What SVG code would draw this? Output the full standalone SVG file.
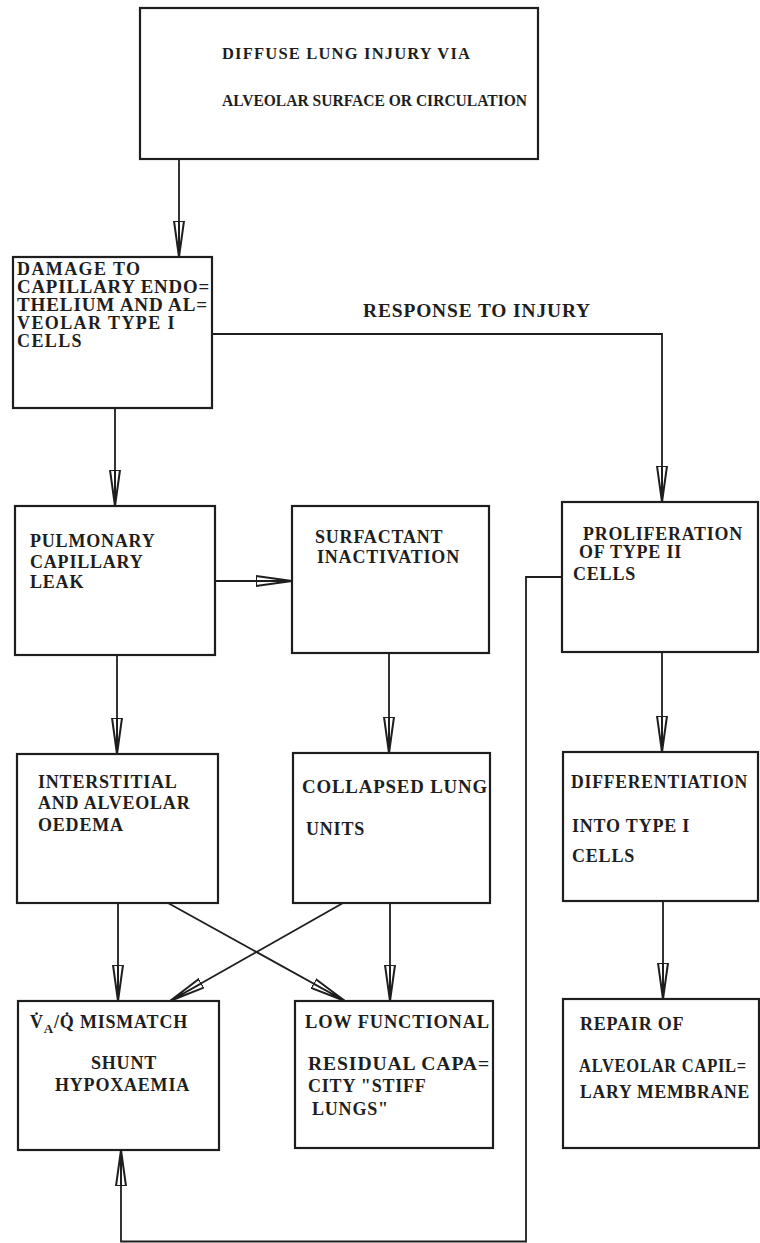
<svg xmlns="http://www.w3.org/2000/svg" width="760" height="1243" viewBox="0 0 760 1243">
<style>
.box{fill:none;stroke:#1e1e1e;stroke-width:2.2}
.t{font-family:"Liberation Serif","Times New Roman",serif;font-weight:bold;font-size:18px;letter-spacing:0.8px;fill:#1e1e1e}
.c{fill:none;stroke:#1e1e1e;stroke-width:1.8}
</style>
<defs>
<marker id="dart" markerUnits="userSpaceOnUse" markerWidth="40" markerHeight="14" viewBox="0 0 40 14" refX="36" refY="7" orient="auto">
<path d="M0,2 L36,7 L0,12 Z M0,7 L36,7" fill="#fff" stroke="#1e1e1e" stroke-width="2" stroke-linejoin="miter"/>
</marker>
</defs>
<rect width="760" height="1243" fill="#fff"/>
<g id="connectors">
<path class="c" d="M179,159 V257" marker-end="url(#dart)"/>
<path class="c" d="M115,408 V506" marker-end="url(#dart)"/>
<path class="c" d="M212,334 H662 V502" marker-end="url(#dart)"/>
<path class="c" d="M215,581 H292" marker-end="url(#dart)"/>
<path class="c" d="M117,655 V754" marker-end="url(#dart)"/>
<path class="c" d="M389,653 V753" marker-end="url(#dart)"/>
<path class="c" d="M662,652 V752" marker-end="url(#dart)"/>
<path class="c" d="M118,903 V1001" marker-end="url(#dart)"/>
<path class="c" d="M390,903 V1001" marker-end="url(#dart)"/>
<path class="c" d="M168,903 L345,1001" marker-end="url(#dart)"/>
<path class="c" d="M343,903 L170,1001" marker-end="url(#dart)"/>
<path class="c" d="M663,901 V999" marker-end="url(#dart)"/>
<path class="c" d="M562,577 H526 V1241.5 H121 V1150" marker-end="url(#dart)"/>
<text class="t" x="363" y="317" textLength="228" lengthAdjust="spacingAndGlyphs">RESPONSE  TO  INJURY</text>
</g>
<g id="n_top">
<rect class="box" x="140" y="8" width="398" height="151"/>
<text class="t" x="222" y="59" style="font-size:16.5px;letter-spacing:0px" textLength="248" lengthAdjust="spacing">DIFFUSE  LUNG  INJURY  VIA</text>
<text class="t" x="222" y="106" style="font-size:16.5px;letter-spacing:0px" textLength="305" lengthAdjust="spacingAndGlyphs">ALVEOLAR SURFACE OR CIRCULATION</text>
</g>
<g id="n_damage">
<rect class="box" x="13" y="257" width="199" height="151"/>
<text class="t" x="17" y="275" style="letter-spacing:1.4px">DAMAGE TO</text>
<text class="t" x="17" y="293" textLength="193" lengthAdjust="spacingAndGlyphs">CAPILLARY ENDO=</text>
<text class="t" x="17" y="311" textLength="191" lengthAdjust="spacingAndGlyphs">THELIUM AND AL=</text>
<text class="t" x="17" y="329" style="letter-spacing:1.4px">VEOLAR TYPE I</text>
<text class="t" x="17" y="347" style="letter-spacing:1.4px">CELLS</text>
</g>
<g id="n_pulmonary">
<rect class="box" x="15" y="506" width="200" height="149"/>
<text class="t" x="30" y="547">PULMONARY</text>
<text class="t" x="30" y="568">CAPILLARY</text>
<text class="t" x="30" y="588">LEAK</text>
</g>
<g id="n_surfactant">
<rect class="box" x="292" y="506" width="197" height="147"/>
<text class="t" x="315" y="543">SURFACTANT</text>
<text class="t" x="317" y="563">INACTIVATION</text>
</g>
<g id="n_prolif">
<rect class="box" x="562" y="502" width="196" height="150"/>
<text class="t" x="583" y="540" textLength="160" lengthAdjust="spacingAndGlyphs">PROLIFERATION</text>
<text class="t" x="579" y="558">OF  TYPE  II</text>
<text class="t" x="573" y="580">CELLS</text>
</g>
<g id="n_interstitial">
<rect class="box" x="17" y="754" width="201" height="149"/>
<text class="t" x="38" y="788">INTERSTITIAL</text>
<text class="t" x="38" y="809">AND ALVEOLAR</text>
<text class="t" x="38" y="831">OEDEMA</text>
</g>
<g id="n_collapsed">
<rect class="box" x="293" y="753" width="197" height="150"/>
<text class="t" x="302" y="793" textLength="186" lengthAdjust="spacingAndGlyphs">COLLAPSED  LUNG</text>
<text class="t" x="306" y="835">UNITS</text>
</g>
<g id="n_diff">
<rect class="box" x="563" y="752" width="195" height="149"/>
<text class="t" x="571" y="788" textLength="177" lengthAdjust="spacingAndGlyphs">DIFFERENTIATION</text>
<text class="t" x="572" y="832">INTO TYPE  I</text>
<text class="t" x="572" y="862">CELLS</text>
</g>
<g id="n_vq">
<rect class="box" x="18" y="1001" width="201" height="149"/>
<text class="t" x="30" y="1028">V̇<tspan dy="5" font-size="13">A</tspan><tspan dy="-5">/Q̇ MISMATCH</tspan></text>
<text class="t" x="91" y="1069">SHUNT</text>
<text class="t" x="55" y="1091">HYPOXAEMIA</text>
</g>
<g id="n_low">
<rect class="box" x="295" y="1001" width="198" height="147"/>
<text class="t" x="305" y="1028" textLength="185" lengthAdjust="spacingAndGlyphs">LOW FUNCTIONAL</text>
<text class="t" x="308" y="1070" textLength="182" lengthAdjust="spacingAndGlyphs">RESIDUAL CAPA=</text>
<text class="t" x="308" y="1092">CITY   "STIFF</text>
<text class="t" x="312" y="1115">LUNGS"</text>
</g>
<g id="n_repair">
<rect class="box" x="563" y="999" width="196" height="149"/>
<text class="t" x="580" y="1030">REPAIR   OF</text>
<text class="t" x="579" y="1072" textLength="168" lengthAdjust="spacingAndGlyphs">ALVEOLAR CAPIL=</text>
<text class="t" x="580" y="1098" textLength="170" lengthAdjust="spacingAndGlyphs">LARY MEMBRANE</text>
</g>
</svg>
